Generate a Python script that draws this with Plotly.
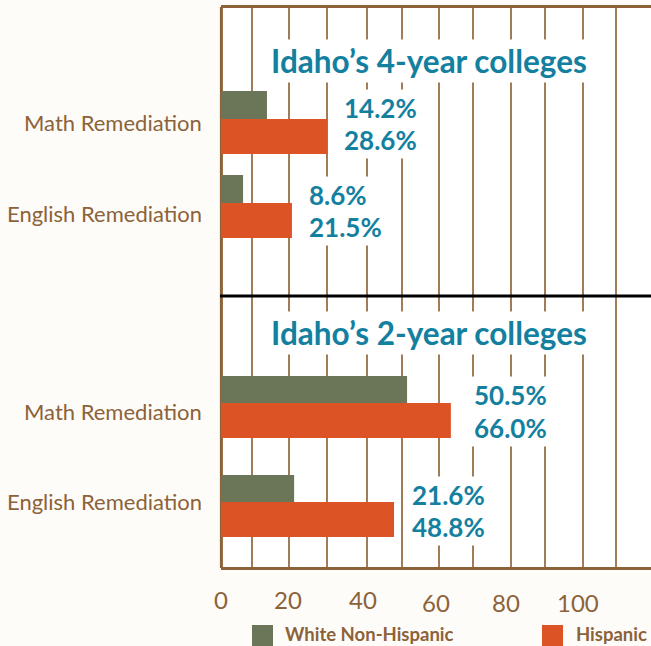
import plotly.graph_objects as go

W, H = 651, 646
L, T, B = 221, 8, 567
MID = 296
PX_PER_UNIT = 3.62
XMAX = (W - L) / PX_PER_UNIT

categories = ["Math Remediation", "English Remediation"]
series_names = ["White Non-Hispanic", "Hispanic"]
# bar lengths as drawn in the picture (read against the grid)
white_4yr = [12.7, 6.1]
hispanic_4yr = [29.4, 19.6]
white_2yr = [51.4, 20.2]
hispanic_2yr = [63.5, 47.8]
# printed labels
labels_4yr = [["14.2%", "28.6%"], ["8.6%", "21.5%"]]
labels_2yr = [["50.5%", "66.0%"], ["21.6%", "48.8%"]]
panel_titles = ["Idaho\u2019s 4-year colleges", "Idaho\u2019s 2-year colleges"]
grid_values = [8.7, 18.8, 29.3, 40.3, 50, 60.2, 69.5, 80, 89.4, 100, 109]
tick_labels = ["0", "20", "40", "60", "80", "100"]

BROWN = "#8c6239"
GRID = "#a07d58"
TEAL = "#13809f"
OLIVE = "#6b7558"
ORANGE = "#dc5426"
PAPER = "#fefcf8"
FONT = "Lato"


def px(p):
    return p / W


def py(p):
    return 1 - p / H


fig = go.Figure()

# panel geometry: category spacing and bar thickness in pixels
S1, S2 = 84, 99
panels = [
    ("x2", "y", white_4yr, hispanic_4yr, S1, 28),
    ("x", "y2", white_2yr, hispanic_2yr, S2, 27),
]
for xa, ya, white, hisp, s, tw in panels:
    fig.add_bar(y=categories, x=white, orientation="h", yaxis=ya, xaxis=xa,
                name=series_names[0], marker_color=OLIVE, marker_line_width=0,
                width=tw / s, offset=-tw / s, showlegend=False)
    fig.add_bar(y=categories, x=hisp, orientation="h", yaxis=ya, xaxis=xa,
                name=series_names[1], marker_color=ORANGE, marker_line_width=0,
                width=35 / s, offset=0, showlegend=False)

ann = []


def text(x, y, t, size, color, bold=False, anchor="center", bg=None, pad=0):
    ann.append(dict(x=x, y=py(y), xref="paper", yref="paper", text=f"<b>{t}</b>" if bold else t,
                    showarrow=False, xanchor=anchor, yanchor="middle",
                    font=dict(family=FONT, size=size, color=color),
                    bgcolor=bg, borderpad=pad))


# panel titles
text(px(429), 61, panel_titles[0], 31.5, TEAL, True, bg="white", pad=2)
text(px(429), 333, panel_titles[1], 31.5, TEAL, True, bg="white", pad=2)

# value labels
for (lbls, xs, ys, anc) in [
    (labels_4yr[0], 420, (108, 140), "right"),
    (labels_4yr[1], 306, (195, 227), "left"),
    (labels_2yr[0], 470.5, (395, 428), "left"),
    (labels_2yr[1], 409, (495, 527), "left"),
]:
    for lab, y in zip(lbls, ys):
        text(px(xs), y, lab, 26, TEAL, True, anc, bg="white", pad=2)

# category labels
for cat, y in zip(categories * 2, (123, 213, 411, 501)):
    text(px(203), y, cat, 22, BROWN, anchor="right")

# x tick labels (as placed in the picture)
for lab, x, y in zip(tick_labels, (221, 288, 363, 436, 506, 578), (599, 599, 599, 602, 602, 602)):
    text(px(x), y, lab, 24, BROWN)

# legend
shapes = []
for name, color, sx, tx in [(series_names[0], OLIVE, 252, 284), (series_names[1], ORANGE, 542, 575)]:
    shapes.append(dict(type="rect", xref="paper", yref="paper", x0=px(sx), x1=px(sx + 21),
                       y0=py(646), y1=py(625), fillcolor=color, line_width=0))
    text(px(tx), 634, name, 18.5, BROWN, True, "left")

# left frame edge and divider between panels
shapes.append(dict(type="line", xref="paper", yref="paper", x0=px(L + 0.4), x1=px(L + 0.4),
                   y0=py(B + 1), y1=py(T - 1), line=dict(color=BROWN, width=3), layer="below"))
shapes.append(dict(type="line", xref="paper", yref="paper", x0=px(L - 1), x1=1,
                   y0=py(MID), y1=py(MID), line=dict(color="black", width=3)))

axis_x = dict(range=[0, XMAX], tickmode="array", tickvals=grid_values, showticklabels=False,
              ticks="", showgrid=True, gridcolor=GRID, gridwidth=1.5, zeroline=False,
              showline=True, linecolor=BROWN, linewidth=3)

fig.update_layout(
    width=W, height=H, autosize=False, barmode="overlay",
    margin=dict(l=0, r=0, t=0, b=0),
    paper_bgcolor=PAPER, plot_bgcolor="white", showlegend=False,
    font=dict(family=FONT, color=BROWN),
    xaxis=dict(domain=[px(L), 1], anchor="y2", **axis_x),
    xaxis2=dict(domain=[px(L), 1], anchor="y", side="top", matches="x", **axis_x),
    yaxis=dict(domain=[py(MID), py(T)], anchor="x2", type="category", categoryorder="array",
               categoryarray=categories, showticklabels=False, ticks="", showgrid=False,
               range=[(MID - 119) / S1, (T - 119) / S1], zeroline=False, showline=False),
    yaxis2=dict(domain=[py(B), py(MID)], anchor="x", type="category", categoryorder="array",
                categoryarray=categories, showticklabels=False, ticks="", showgrid=False,
                range=[(B - 403) / S2, (MID - 403) / S2], zeroline=False, showline=False),
    annotations=ann, shapes=shapes,
)

fig.write_html("out.html", config={"displayModeBar": False},
               post_script="document.body.style.margin='0';document.body.style.overflow='hidden';"
                           "document.body.style.background='%s';" % PAPER)
